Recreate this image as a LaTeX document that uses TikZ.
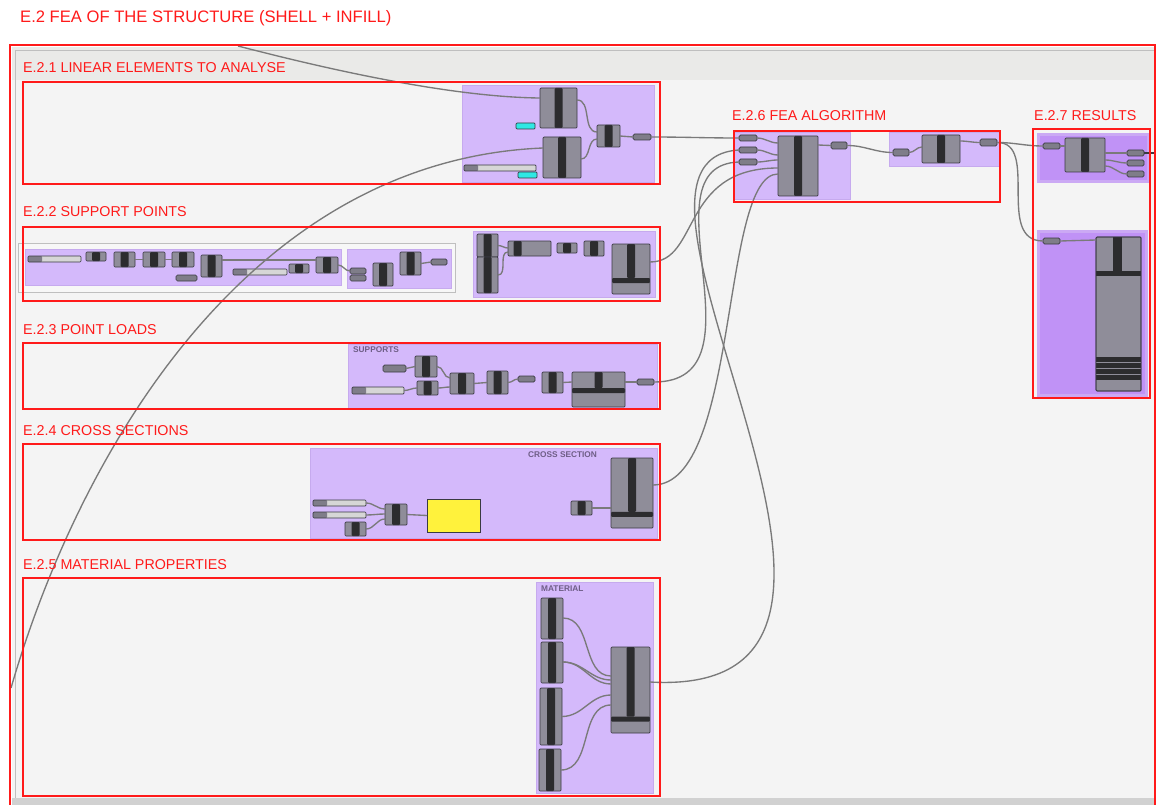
\documentclass[tikz,border=0pt]{standalone}
\usepackage{fontspec}
\setmainfont{Liberation Sans}
\usetikzlibrary{calc}

\definecolor{canvasbg}{HTML}{F4F4F4}
\definecolor{bandgray}{HTML}{EAEAE8}
\definecolor{grpviolet}{HTML}{D4B9FB}
\definecolor{grpedge}{HTML}{C6AAEE}
\definecolor{resviolet}{HTML}{C092F6}
\definecolor{resedge}{HTML}{CBA9F4}
\definecolor{compgray}{HTML}{8F8D99}
\definecolor{paramgray}{HTML}{7F7D89}
\definecolor{edgedark}{HTML}{3A3A42}
\definecolor{bardark}{HTML}{2C2C2E}
\definecolor{sliderlight}{HTML}{D6D6D6}
\definecolor{wiregray}{HTML}{7A7A7A}
\definecolor{panelcyan}{HTML}{2FE8E4}
\definecolor{swatchyellow}{HTML}{FFF23C}
\definecolor{framered}{HTML}{FF1A1A}
\definecolor{grptext}{HTML}{6E5E86}

\tikzset{
  part/.style={draw=edgedark, line width=0.7pt, inner sep=0pt, outer sep=0pt, anchor=north west},
  comp/.style={part, fill=compgray, rounded corners=1pt,
    path picture={\fill[bardark] ($(path picture bounding box.north)+(#1-4pt,0pt)$) rectangle ($(path picture bounding box.south)+(#1+4pt,0pt)$);}},
  comp/.default=0pt,
  bigcomp/.style={part, fill=compgray, rounded corners=1pt,
    path picture={
      \fill[bardark] ($(path picture bounding box.north)+(-4pt,0pt)$) rectangle ($(path picture bounding box.north)!#1!(path picture bounding box.south)+(4pt,0pt)$);
      \fill[bardark] ($(path picture bounding box.north west)!#1!(path picture bounding box.south west)$) rectangle ($(path picture bounding box.north east)!#1!(path picture bounding box.south east)+(0pt,-5pt)$);}},
  param/.style={part, fill=paramgray, rounded corners=1.5pt, minimum width=17pt, minimum height=6pt},
  slider/.style={part, fill=sliderlight, rounded corners=1pt, minimum height=6pt,
    path picture={\fill[paramgray] (path picture bounding box.north west) rectangle ($(path picture bounding box.south west)+(14pt,0pt)$);}},
  panel/.style={part, fill=panelcyan, rounded corners=1pt, minimum width=19pt, minimum height=6pt},
  group/.style={fill=grpviolet, draw=grpedge, line width=0.8pt},
  frame/.style={draw=framered, line width=1.6pt},
  title/.style={text=framered, font=\fontsize{14.3}{16}\selectfont, anchor=base west, inner sep=0pt},
  grouptag/.style={text=grptext, font=\fontsize{8.3}{9}\selectfont\bfseries, anchor=north west, inner sep=0pt},
  wire/.style={draw=wiregray, line width=1.35pt},
}

\begin{document}
\begin{tikzpicture}[x=1pt, y=-1pt]
  \useasboundingbox (0,0) rectangle (1156,805);
  \fill[white] (0,0) rectangle (1156,805);

  % canvas
  \fill[canvasbg] (12,47) rectangle (1156,805);
  \fill[bandgray] (12,47) rectangle (1156,80);
  \draw[black!25, line width=0.8pt] (15,50) rectangle (1160,798);
  \fill[black!18] (12,798) rectangle (1156,805);

  % groups
  \fill[group] (462,85) rectangle (654,182);
  \filldraw[fill=white!97!black, draw=black!25, line width=0.8pt] (18,243) rectangle (455,292);
  \fill[group] (25,249) rectangle (341,285);
  \fill[group] (347,249) rectangle (451,288);
  \fill[group] (473,231) rectangle (655,297);
  \fill[group] (348,344) rectangle (657,409);
  \fill[group] (310,448) rectangle (657,538);
  \fill[group] (536,582) rectangle (653,793);
  \fill[group] (734,132) rectangle (850,199);
  \fill[group] (889,132) rectangle (999,166);
  \fill[resedge] (1037,133) rectangle (1150,183);
  \fill[resviolet] (1040,136) rectangle (1147,180);
  \fill[resedge] (1037,230) rectangle (1148,397);
  \fill[resviolet] (1040,233) rectangle (1145,394);

  \node[grouptag] (tagSup) at (353,347) {SUPPORTS};
  \node[grouptag] (tagCs) at (528,452) {CROSS SECTION};
  \node[grouptag] (tagMat) at (541,586) {MATERIAL};

  % E.2.1 linear elements
  \node[comp, minimum width=37pt, minimum height=40pt] (lineA) at (540,88) {};
  \node[comp, minimum width=38pt, minimum height=41pt] (lineB) at (543,137) {};
  \node[comp, minimum width=23pt, minimum height=22pt] (lineJoin) at (597,125) {};
  \node[param, minimum width=18pt] (lineOut) at (633,134) {};
  \node[panel] (panelA) at (516,123) {};
  \node[panel] (panelB) at (518,172) {};
  \node[slider, minimum width=72pt] (sliderA) at (464,165) {};

  % E.2.2 support points
  \node[slider, minimum width=53pt] (supS1) at (28,256) {};
  \node[comp, minimum width=20pt, minimum height=9pt] (supC1) at (86,252) {};
  \node[comp, minimum width=21pt, minimum height=15pt] (supC2) at (114,252) {};
  \node[comp, minimum width=22pt, minimum height=15pt] (supC3) at (143,252) {};
  \node[comp, minimum width=22pt, minimum height=15pt] (supC4) at (172,252) {};
  \node[param, minimum width=21pt] (supP1) at (176,275) {};
  \node[comp, minimum width=21pt, minimum height=22pt] (supC5) at (201,255) {};
  \node[slider, minimum width=54pt] (supS2) at (233,269) {};
  \node[comp, minimum width=20pt, minimum height=9pt] (supC6) at (289,264) {};
  \node[comp, minimum width=22pt, minimum height=16pt] (supC7) at (316,257) {};
  \node[param, minimum width=16pt] (supP2) at (350,268) {};
  \node[param, minimum width=16pt] (supP3) at (350,275) {};
  \node[comp, minimum width=20pt, minimum height=23pt] (supC8) at (373,263) {};
  \node[comp, minimum width=21pt, minimum height=23pt] (supC9) at (400,252) {};
  \node[param, minimum width=16pt] (supP4) at (431,259) {};
  \node[comp, minimum width=21pt, minimum height=23pt] (supD1) at (477,234) {};
  \node[comp, minimum width=21pt, minimum height=36pt] (supD2) at (477,257) {};
  \node[comp=-12pt, minimum width=43pt, minimum height=15pt] (supD3) at (508,241) {};
  \node[comp, minimum width=20pt, minimum height=10pt] (supD4) at (557,243) {};
  \node[comp, minimum width=20pt, minimum height=15pt] (supD5) at (584,241) {};
  \node[bigcomp=0.68, minimum width=38pt, minimum height=50pt] (supOut) at (612,244) {};

  % E.2.3 point loads
  \node[param, minimum width=23pt, minimum height=7pt] (ldP1) at (383,365) {};
  \node[comp, minimum width=22pt, minimum height=21pt] (ldC1) at (415,356) {};
  \node[slider, minimum width=52pt, minimum height=7pt] (ldS) at (352,387) {};
  \node[comp, minimum width=21pt, minimum height=14pt] (ldC2) at (417,381) {};
  \node[comp, minimum width=24pt, minimum height=21pt] (ldC3) at (450,373) {};
  \node[comp, minimum width=21pt, minimum height=23pt] (ldC4) at (487,371) {};
  \node[param, minimum width=17pt] (ldP2) at (518,376) {};
  \node[comp, minimum width=21pt, minimum height=21pt] (ldC5) at (542,372) {};
  \node[bigcomp=0.46, minimum width=53pt, minimum height=35pt] (ldBig) at (572,372) {};
  \node[param, minimum width=17pt] (ldOut) at (637,379) {};

  % E.2.4 cross sections
  \node[slider, minimum width=53pt] (csS1) at (313,500) {};
  \node[slider, minimum width=53pt] (csS2) at (313,512) {};
  \node[comp, minimum width=21pt, minimum height=14pt] (csC1) at (345,522) {};
  \node[comp, minimum width=22pt, minimum height=21pt] (csC2) at (385,504) {};
  \node[part, fill=swatchyellow, minimum width=53pt, minimum height=33pt] (csSwatch) at (427,499) {};
  \node[comp, minimum width=21pt, minimum height=14pt] (csC3) at (571,501) {};
  \node[bigcomp=0.77, minimum width=42pt, minimum height=70pt] (csBig) at (611,458) {};

  % E.2.5 material
  \node[comp, minimum width=22pt, minimum height=41pt] (matA) at (541,598) {};
  \node[comp, minimum width=22pt, minimum height=41pt] (matB) at (541,642) {};
  \node[comp, minimum width=22pt, minimum height=57pt] (matC) at (540,688) {};
  \node[comp, minimum width=22pt, minimum height=42pt] (matD) at (539,749) {};
  \node[bigcomp=0.81, minimum width=39pt, minimum height=86pt] (matBig) at (611,647) {};

  % E.2.6 fea algorithm
  \node[param, minimum width=18pt] (feaP1) at (739,135) {};
  \node[param, minimum width=18pt] (feaP2) at (739,147) {};
  \node[param, minimum width=18pt] (feaP3) at (739,159) {};
  \node[comp, minimum width=40pt, minimum height=60pt] (feaSolve) at (778,136) {};
  \node[param, minimum width=16pt, minimum height=7pt] (feaP4) at (831,142) {};
  \node[param, minimum width=16pt, minimum height=7pt] (feaP5) at (893,149) {};
  \node[comp, minimum width=38pt, minimum height=28pt] (feaC) at (922,135) {};
  \node[param, minimum width=17pt, minimum height=7pt] (feaP6) at (980,139) {};

  % E.2.7 results
  \node[param, minimum width=17pt] (resP1) at (1043,143) {};
  \node[comp, minimum width=40pt, minimum height=34pt] (resC) at (1065,138) {};
  \node[param, minimum width=17pt] (resO1) at (1127,150) {};
  \node[param, minimum width=17pt] (resO2) at (1127,160) {};
  \node[param, minimum width=17pt] (resO3) at (1127,171) {};
  \node[param, minimum width=17pt] (resP2) at (1043,238) {};
  \node[part, fill=compgray, rounded corners=1pt, minimum width=45pt, minimum height=154pt] (resView) at (1096,237) {};
  \fill[bardark] (1113,237) rectangle (1122,271);
  \fill[bardark] (1096,271) rectangle (1141,276);
  \fill[bardark] (1096,357) rectangle (1141,380);
  \foreach \y in {362.5,368.5,374.5}
    \draw[compgray, line width=0.8pt] (1096,\y) -- (1141,\y);
  \draw[edgedark, line width=0.7pt, rounded corners=1pt] (resView.north west) rectangle (resView.south east);

  % wires
  \coordinate (topEnd) at (238,46);
  \coordinate (leftEnd) at (11,688);
  \coordinate (resExit) at (1156,153);
  \draw[wire] (topEnd) .. controls (300,62) and (440,97) .. ($(lineA.north west)+(0,10)$);
  \draw[wire] (leftEnd) .. controls (80,450) and (250,160) .. ($(lineB.north west)+(0,11)$);
  \draw[wire] ($(lineA.north east)+(0,12)$) to[out=0,in=180] ($(lineJoin.north west)+(0,7)$);
  \draw[wire] ($(lineB.north east)+(0,22)$) to[out=0,in=180] ($(lineJoin.north west)+(0,14)$);
  \draw[wire] (lineJoin.east) -- (lineOut.west);
  \draw[wire] (lineOut.east) to[out=0,in=180] (feaP1.west);

  \draw[wire] (supC2.east) -- (supC3.west);
  \draw[wire] (supC3.east) -- (supC4.west);
  \draw[wire] ($(supC5.north east)+(0,5)$) -- ($(supC7.north west)+(0,3)$);
  \draw[wire] (supC7.east) to[out=0,in=180] (supP2.west);
  \draw[wire] (supC9.east) to[out=0,in=180] (supP4.west);
  \draw[wire] (supD1.east) to[out=0,in=180] ($(supD3.north west)+(0,7)$);
  \draw[wire] (supD2.east) to[out=0,in=180] ($(supD3.north west)+(0,11)$);
  \draw[wire] ($(supOut.north east)+(0,18)$) .. controls (700,262) and (680,168) .. ($(feaSolve.north west)+(0,32)$);

  \draw[wire] (ldP1.east) to[out=0,in=180] (ldC1.west);
  \draw[wire] (ldC1.east) to[out=0,in=180] ($(ldC3.north west)+(0,5)$);
  \draw[wire] (ldS.east) to[out=0,in=180] (ldC2.west);
  \draw[wire] (ldC2.east) to[out=0,in=180] ($(ldC3.north west)+(0,14)$);
  \draw[wire] (ldC3.east) -- (ldC4.west);
  \draw[wire] (ldC4.east) to[out=0,in=180] (ldP2.west);
  \draw[wire] (ldC5.east) -- ($(ldBig.north west)+(0,10)$);
  \draw[wire] ($(ldBig.north east)+(0,10)$) -- (ldOut.west);
  \draw[wire] (ldOut.east) .. controls (770,382) and (640,165) .. (feaP3.west);

  \draw[wire] (csS1.east) to[out=0,in=180] ($(csC2.north west)+(0,5)$);
  \draw[wire] (csS2.east) to[out=0,in=180] ($(csC2.north west)+(0,10)$);
  \draw[wire] (csC1.east) to[out=0,in=180] ($(csC2.north west)+(0,15)$);
  \draw[wire] (csC2.east) -- (csSwatch.west);
  \draw[wire] (csC3.east) -- ($(csBig.north west)+(0,50)$);
  \draw[wire] ($(csBig.north east)+(0,27)$) .. controls (740,485) and (720,174) .. ($(feaSolve.north west)+(0,38)$);

  \draw[wire] ($(matA.north east)+(0,20)$) to[out=0,in=180] ($(matBig.north west)+(0,29)$);
  \draw[wire] ($(matB.north east)+(0,20)$) to[out=0,in=180] ($(matBig.north west)+(0,33)$);
  \draw[wire] ($(matB.north east)+(0,20)$) to[out=0,in=180] ($(matBig.north west)+(0,37)$);
  \draw[wire] (matC.east) to[out=0,in=180] ($(matBig.north west)+(0,48)$);
  \draw[wire] (matD.east) to[out=0,in=180] ($(matBig.north west)+(0,58)$);
  \draw[wire] ($(matBig.north east)+(0,35)$) .. controls (960,700) and (570,160) .. (feaP2.west);

  \draw[wire] (feaP1.east) to[out=0,in=180] ($(feaSolve.north west)+(0,7)$);
  \draw[wire] (feaP2.east) to[out=0,in=180] ($(feaSolve.north west)+(0,19)$);
  \draw[wire] (feaP3.east) to[out=0,in=180] ($(feaSolve.north west)+(0,24)$);
  \draw[wire] ($(feaSolve.north east)+(0,9)$) -- (feaP4.west);
  \draw[wire] (feaP4.east) to[out=0,in=180] (feaP5.west);
  \draw[wire] (feaP5.east) to[out=0,in=180] ($(feaC.north west)+(0,12)$);
  \draw[wire] ($(feaC.north east)+(0,6)$) to[out=0,in=180] (feaP6.west);
  \draw[wire] (feaP6.east) to[out=0,in=180] (resP1.west);
  \draw[wire] (feaP6.east) .. controls (1040,142) and (995,241) .. (resP2.west);

  \draw[wire] (resP1.east) -- ($(resC.north west)+(0,8)$);
  \draw[wire] ($(resC.north east)+(0,15)$) to[out=0,in=180] (resO1.west);
  \draw[wire] ($(resC.north east)+(0,22)$) to[out=0,in=180] (resO2.west);
  \draw[wire] ($(resC.north east)+(0,28)$) to[out=0,in=180] (resO3.west);
  \draw[wire, draw=edgedark] (resO1.east) -- (resExit);
  \draw[wire] (resP2.east) -- ($(resView.north west)+(0,3)$);

  % red frames and titles
  \draw[frame] (10,45) rectangle (1155,806);
  \draw[frame] (23,82) rectangle (660,184);
  \draw[frame] (23,227) rectangle (660,301);
  \draw[frame] (23,343) rectangle (660,409);
  \draw[frame] (23,444) rectangle (660,540);
  \draw[frame] (23,578) rectangle (660,796);
  \draw[frame] (734,131) rectangle (1000,202);
  \draw[frame] (1033,129) rectangle (1150,398);

  \node[title, font=\fontsize{16.6}{18}\selectfont] (ttlMain) at (20,23) {E.2 FEA OF THE STRUCTURE (SHELL + INFILL)};
  \node[title] (ttlLin) at (23,73) {E.2.1 LINEAR ELEMENTS TO ANALYSE};
  \node[title] (ttlSup) at (23,217) {E.2.2 SUPPORT POINTS};
  \node[title] (ttlLoad) at (23,334) {E.2.3 POINT LOADS};
  \node[title] (ttlCs) at (23,435) {E.2.4 CROSS SECTIONS};
  \node[title] (ttlMat) at (23,569) {E.2.5 MATERIAL PROPERTIES};
  \node[title] (ttlFea) at (732,121) {E.2.6 FEA ALGORITHM};
  \node[title] (ttlRes) at (1034,121) {E.2.7 RESULTS};
\end{tikzpicture}
\end{document}
